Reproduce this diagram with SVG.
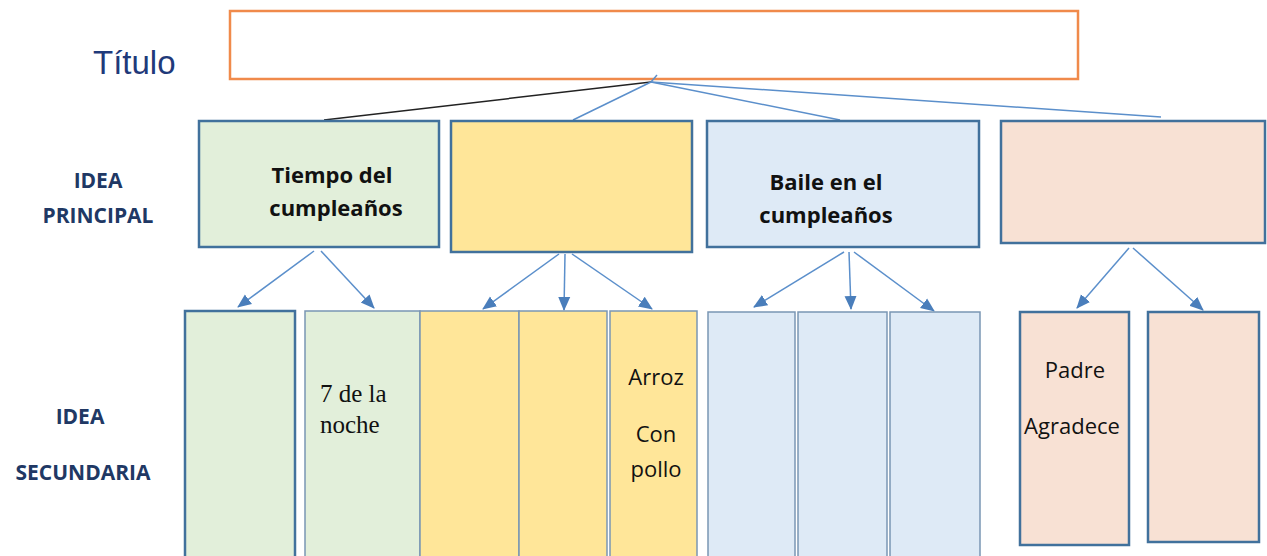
<svg xmlns="http://www.w3.org/2000/svg" width="1267" height="556" viewBox="0 0 1267 556">
<defs>
<marker id="ah" markerUnits="userSpaceOnUse" markerWidth="14" markerHeight="14" viewBox="0 0 14 14" refX="13" refY="7" orient="auto">
<path d="M0,1 L14,7 L0,13 z" fill="#4A7EBB"/>
</marker>
<style>
.main{stroke:#41719C;stroke-width:2.5}
.sub{stroke:#7A96B4;stroke-width:1.5}
.subk{stroke:#41719C;stroke-width:2.5}
.g{fill:#E2EFDA}.y{fill:#FFE699}.b{fill:#DEEAF6}.p{fill:#F8E1D4}
.lbl{font-family:"Open Sans","Liberation Sans",sans-serif;font-weight:bold;font-size:21px;fill:#203864;text-anchor:middle}
.ht{font-family:"Open Sans","Liberation Sans",sans-serif;font-weight:bold;font-size:22px;fill:#111;text-anchor:middle}
.st{font-family:"Open Sans","Liberation Sans",sans-serif;font-size:22px;fill:#111;text-anchor:middle}
.ser{font-family:"Liberation Serif",serif;font-size:25px;fill:#111}
.con{stroke:#5B8FCB;stroke-width:1.5;fill:none}
.arr{stroke:#5B8FCB;stroke-width:1.5;fill:none;marker-end:url(#ah)}
</style>
</defs>
<rect width="1267" height="556" fill="#fff"/>
<g id="labels">
<text x="93" y="74" font-family="Liberation Sans, Arial, sans-serif" font-size="33" fill="#1F3A7A">Título</text>
<text class="lbl" x="98" y="188">IDEA</text>
<text class="lbl" x="98" y="223">PRINCIPAL</text>
<text class="lbl" x="80" y="424">IDEA</text>
<text class="lbl" x="83" y="480">SECUNDARIA</text>
</g>
<g id="title"><rect x="230" y="11" width="848" height="68" fill="#fff" stroke="#F08A4B" stroke-width="2.5"/></g>
<g id="connectors">
<line x1="651" y1="82" x2="324" y2="120" stroke="#222" stroke-width="1.5"/>
<line class="con" x1="651" y1="82" x2="657" y2="75"/>
<line class="con" x1="651" y1="82" x2="573" y2="120"/>
<line class="con" x1="651" y1="82" x2="840" y2="120"/>
<line class="con" x1="651" y1="82" x2="1161" y2="117"/>
<line class="arr" x1="314" y1="251" x2="238" y2="307"/>
<line class="arr" x1="321" y1="251" x2="374" y2="308"/>
<line class="arr" x1="559" y1="254" x2="483" y2="309"/>
<line class="arr" x1="565" y1="254" x2="564" y2="310"/>
<line class="arr" x1="572" y1="254" x2="652" y2="309"/>
<line class="arr" x1="844" y1="252" x2="754" y2="307"/>
<line class="arr" x1="849" y1="252" x2="851" y2="309"/>
<line class="arr" x1="854" y1="252" x2="934" y2="311"/>
<line class="arr" x1="1129" y1="248" x2="1077" y2="308"/>
<line class="arr" x1="1133" y1="248" x2="1203" y2="310"/>
</g>
<g id="main1"><rect class="main g" x="199" y="121" width="240" height="126"/>
<text class="ht" x="332" y="183">Tiempo del</text><text class="ht" x="336" y="216">cumpleaños</text></g>
<g id="main2"><rect class="main y" x="451" y="121" width="241" height="131"/></g>
<g id="main3"><rect class="main b" x="707" y="121" width="272" height="126"/>
<text class="ht" x="826" y="190">Baile en el</text><text class="ht" x="826" y="223">cumpleaños</text></g>
<g id="main4"><rect class="main p" x="1001" y="121" width="264" height="122"/></g>
<g id="sub-g1"><rect class="subk g" x="185" y="311" width="110" height="260"/></g>
<g id="sub-g2"><rect class="sub g" x="305" y="311" width="115" height="260"/>
<text class="ser" x="320" y="402">7 de la</text><text class="ser" x="320" y="433">noche</text></g>
<g id="sub-y1"><rect class="sub y" x="420" y="311" width="99" height="260"/></g>
<g id="sub-y2"><rect class="sub y" x="519" y="311" width="88" height="260"/></g>
<g id="sub-y3"><rect class="sub y" x="610" y="311" width="87" height="260"/>
<text class="st" x="656" y="385">Arroz</text><text class="st" x="656" y="442">Con</text><text class="st" x="656" y="477">pollo</text></g>
<g id="sub-b1"><rect class="sub b" x="708" y="312" width="87" height="260"/></g>
<g id="sub-b2"><rect class="sub b" x="798" y="312" width="89" height="260"/></g>
<g id="sub-b3"><rect class="sub b" x="890" y="312" width="90" height="260"/></g>
<g id="sub-p1"><rect class="main p" x="1020" y="312" width="109" height="233"/>
<text class="st" x="1075" y="378">Padre</text><text class="st" x="1072" y="434">Agradece</text></g>
<g id="sub-p2"><rect class="main p" x="1148" y="312" width="111" height="230"/></g>
</svg>
